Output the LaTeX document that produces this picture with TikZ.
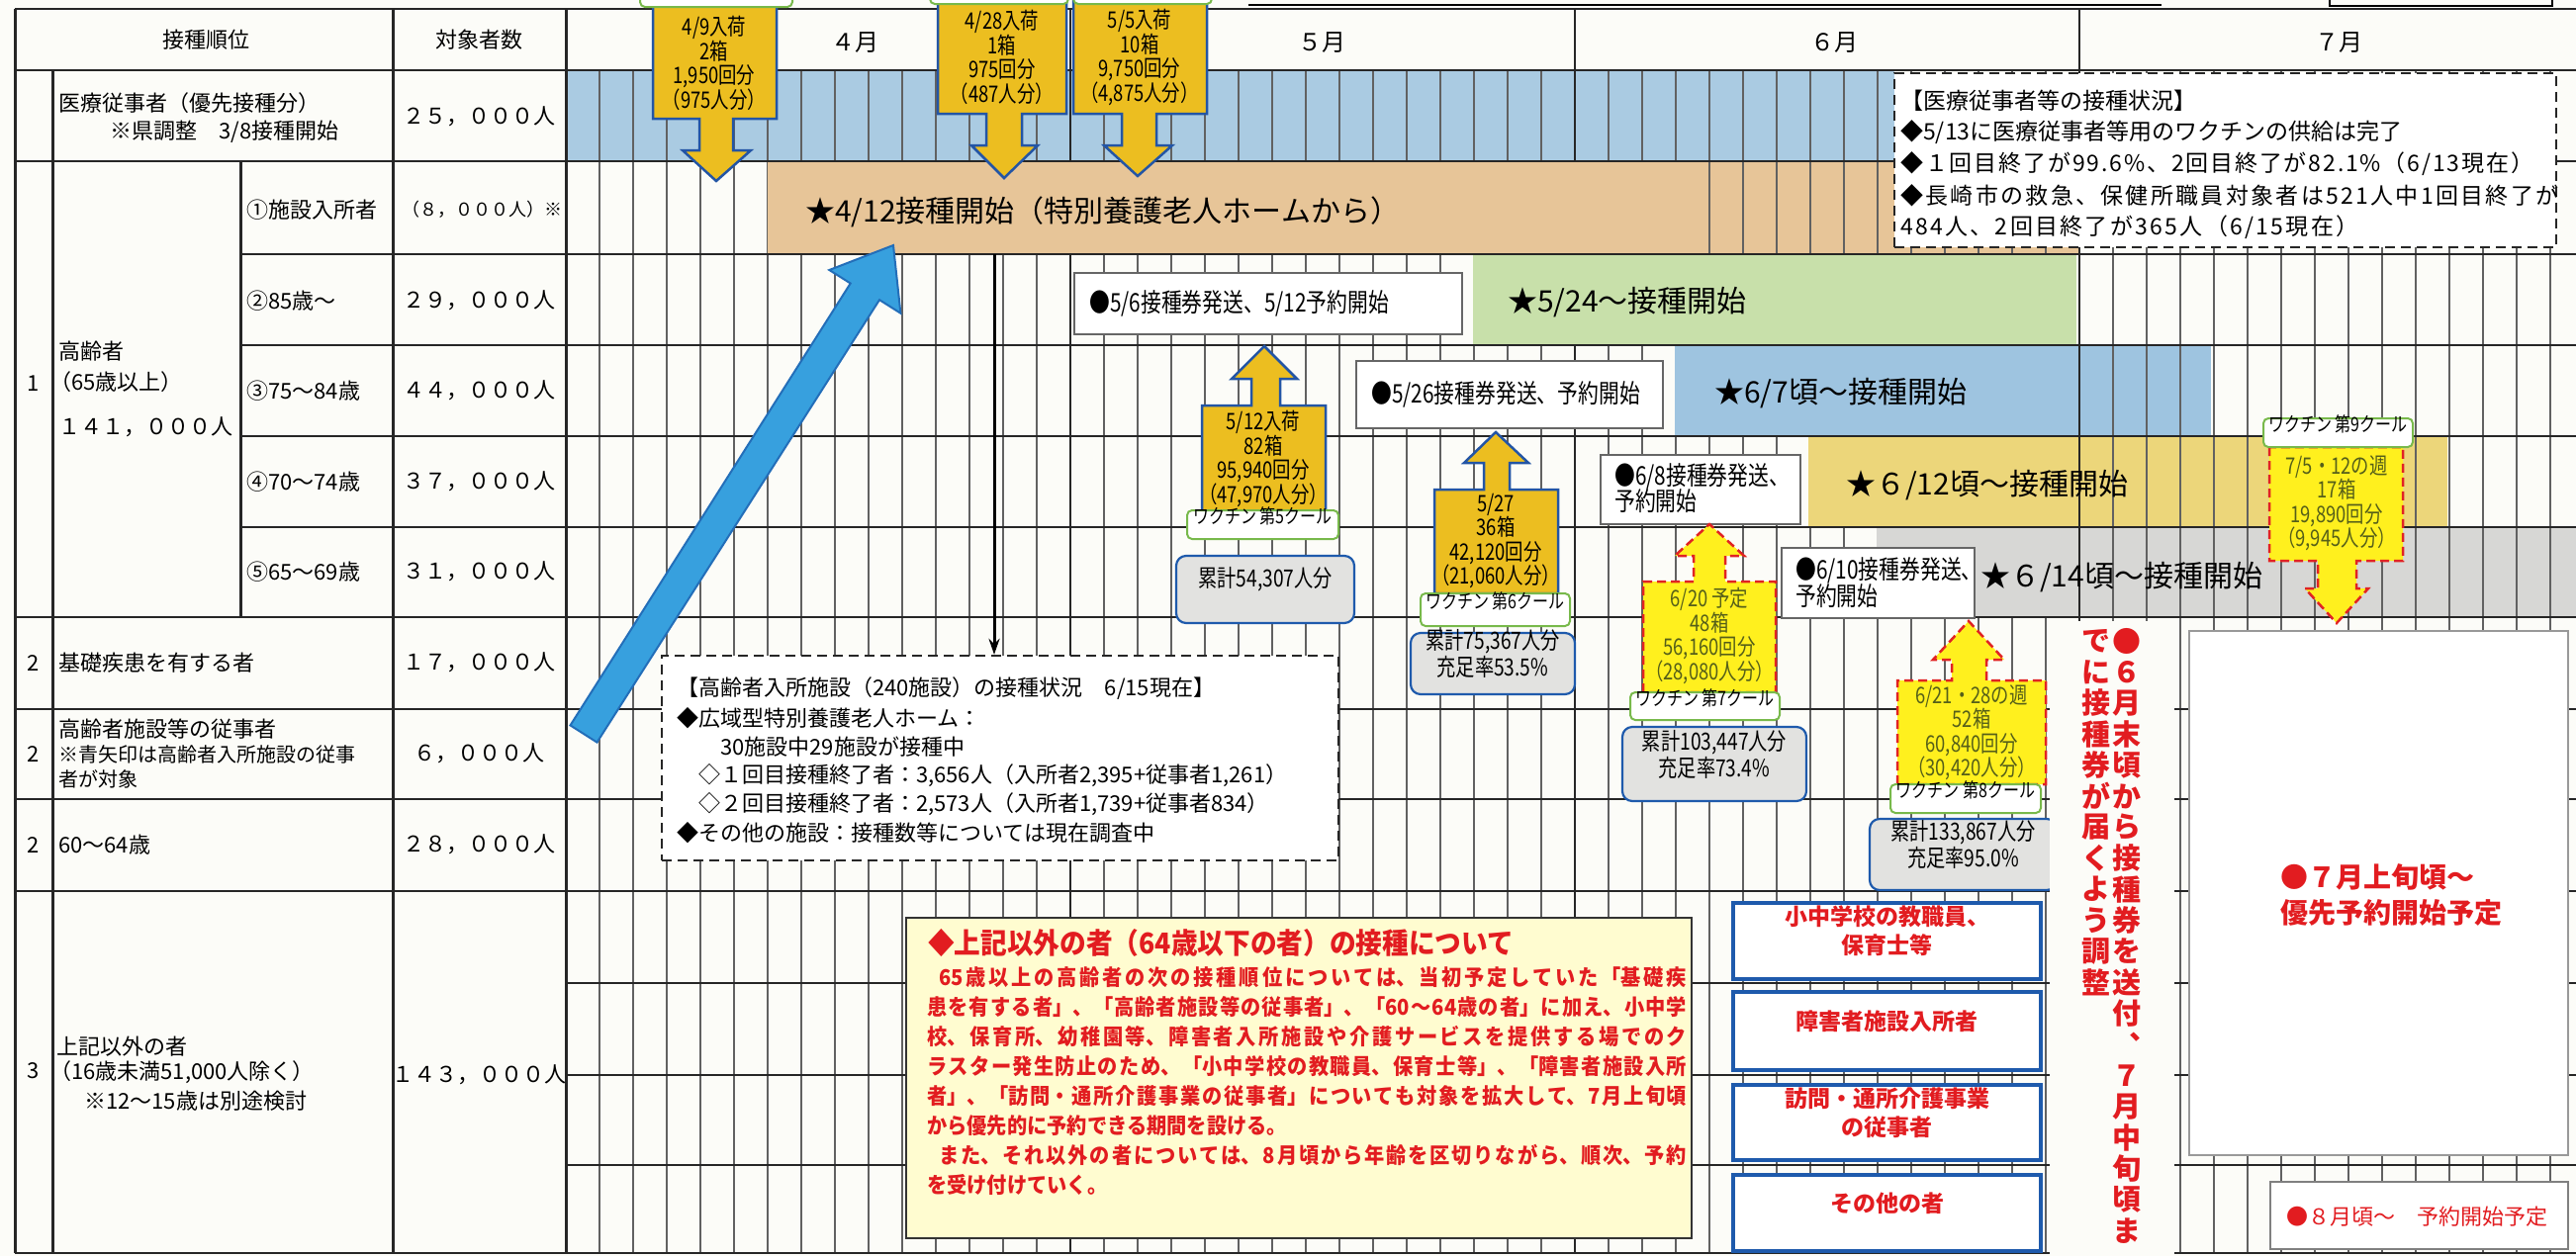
\documentclass[tikz,border=0pt]{standalone}
\usepackage{fontspec}
\setmainfont{Noto Sans CJK JP}
\newfontfamily\cond[FakeStretch=0.8]{Noto Sans CJK JP}
\newfontfamily\notefont[FakeStretch=0.92]{Noto Sans CJK JP}
\XeTeXlinebreaklocale "ja"
\XeTeXlinebreakskip=0pt plus 4pt minus 1pt
\usetikzlibrary{arrows.meta,fit}

\definecolor{paper}{RGB}{252,252,248}
\definecolor{medblue}{RGB}{170,203,226}
\definecolor{homebar}{RGB}{231,197,152}
\definecolor{agebar}{RGB}{200,224,170}
\definecolor{youngbar}{RGB}{158,196,224}
\definecolor{sixtybar}{RGB}{236,214,122}
\definecolor{lastbar}{RGB}{215,215,213}
\definecolor{gold}{RGB}{236,190,32}
\definecolor{arrowblue}{RGB}{35,85,165}
\definecolor{brightyel}{RGB}{255,240,30}
\definecolor{planred}{RGB}{225,35,35}
\definecolor{olive}{RGB}{85,95,25}
\definecolor{skyblue}{RGB}{55,160,222}
\definecolor{skyedge}{RGB}{35,110,185}
\definecolor{redtext}{RGB}{226,28,32}
\definecolor{boxblue}{RGB}{30,90,172}
\definecolor{labelgreen}{RGB}{120,185,75}
\definecolor{totalgray}{RGB}{226,226,224}
\definecolor{notebg}{RGB}{255,252,208}

\tikzset{
  gridline/.style={line width=1.3pt, black!62},
  monthline/.style={line width=2.6pt, black!85},
  rowline/.style={line width=2.4pt, black!85},
  tblline/.style={line width=3pt, black!85},
  cell/.style={inner sep=0pt, font=\fontsize{22}{26}\selectfont},
  monthtext/.style={inner sep=0pt, font=\fontsize{24}{28}\selectfont},
  bartext/.style={anchor=west, inner sep=0pt, font=\fontsize{30}{34}\selectfont},
  notice/.style={draw=black!60, line width=2pt, fill=white, inner sep=0pt},
  noticetext/.style={anchor=west, inner sep=0pt, font=\cond\fontsize{26}{29}\selectfont},
  statusbox/.style={draw=black!85, line width=2.4pt, dash pattern=on 10pt off 6pt, fill=white, inner sep=0pt},
  statustext/.style={anchor=west, inner sep=0pt, font=\fontsize{22}{26}\selectfont},
  goldarrow/.style={fill=gold, draw=arrowblue, line width=2.5pt},
  planarrow/.style={fill=brightyel, draw=planred, line width=2.5pt, dash pattern=on 9pt off 5pt},
  arrowtext/.style={inner sep=0pt, align=center, font=\cond\fontsize{23}{24.5}\selectfont},
  coollabel/.style={draw=labelgreen, line width=2pt, fill=white, rounded corners=5pt, inner sep=0pt, font=\cond\fontsize{20}{22}\selectfont},
  totalbox/.style={draw=boxblue, line width=2.2pt, fill=totalgray, rounded corners=10pt, inner sep=0pt, align=center, font=\cond\fontsize{24}{27}\selectfont},
  groupbox/.style={draw=boxblue, line width=4pt, fill=white, inner sep=0pt, align=center, text=redtext, font=\bfseries\fontsize{23}{29}\selectfont},
  notetext/.style={anchor=west, inner sep=0pt, text=redtext, font=\notefont\bfseries\fontsize{22}{26}\selectfont},
  vtext/.style={inner sep=0pt, text=redtext, font=\bfseries\fontsize{29}{29}\selectfont},
}

\newcommand\vlines[2]{%
  \foreach \k in {1,...,59}{\draw[gridline] ({572+34*\k},#1) -- ({572+34*\k},#2);}%
  \foreach \k in {15,30,45}{\draw[monthline] ({572+34*\k},#1) -- ({572+34*\k},#2);}}
\newcommand\fullline[1]{\parbox{768pt}{\tolerance=9999\parfillskip=0pt\relax #1}}

\begin{document}
\begin{tikzpicture}[x=1pt,y=-1pt]
\useasboundingbox (0,0) rectangle (2604,1270);
\fill[paper] (0,0) rectangle (2604,1270);

\fill[medblue] (572,71) rectangle (1915,163);
\vlines{71}{1267}
\foreach \k in {15,30,45} \draw[monthline] ({572+34*\k},9) -- ({572+34*\k},71);

\node[fit={(776,163) (2101,257)}, fill=homebar, inner sep=0pt] (tanbar) {};
\fill[agebar] (1489,257) rectangle (2099,349);
\fill[youngbar] (1693,349) rectangle (2235,441);
\fill[sixtybar] (1828,441) rectangle (2474,533);
\fill[lastbar] (1897,533) rectangle (2604,624);
\begin{scope} \clip (1727,163) rectangle (2101,257); \vlines{163}{257} \end{scope}
\begin{scope} \clip (2101,349) rectangle (2235,441); \vlines{349}{441} \end{scope}
\begin{scope} \clip (2101,441) rectangle (2474,533); \vlines{441}{533} \end{scope}
\begin{scope} \clip (2101,533) rectangle (2604,624); \vlines{533}{624} \end{scope}

\foreach \y in {9,71,163,624,717,808,901,1267} \draw[rowline] (15,\y) -- (2604,\y);
\foreach \y in {257,349,441,533} \draw[rowline] (243,\y) -- (2604,\y);
\foreach \y in {994,1087,1178} \draw[rowline] (572,\y) -- (2604,\y);
\draw[tblline] (15,9) -- (15,1267);
\draw[tblline] (53,71) -- (53,1267);
\draw[tblline] (243,163) -- (243,624);
\draw[tblline] (397,9) -- (397,1267);
\draw[tblline] (572,9) -- (572,1267);
\draw[line width=2pt] (1262,5) -- (2185,5);
\draw[line width=2.4pt] (2355,-20) rectangle (2580,6);

\node[monthtext] (apr) at (864,43) {４月};
\node[monthtext] (may) at (1336,43) {５月};
\node[monthtext] (jun) at (1854,43) {６月};
\node[monthtext] (jul) at (2364,43) {７月};

\node[cell] (hOrder) at (208,40) {接種順位};
\node[cell] (hCount) at (484,40) {対象者数};
\node[cell, anchor=west] (medA) at (59,104) {医療従事者（優先接種分）};
\node[cell, anchor=west] (medB) at (111,133) {※県調整　3/8接種開始};
\node[cell] (medN) at (484,118) {２５，０００人};
\node[cell, anchor=west] (oldA) at (59,355) {高齢者};
\node[cell, anchor=west] (oldB) at (50,386) {（65歳以上）};
\node[cell, anchor=west] (oldC) at (59,432) {１４１，０００人};
\node[cell] (no1) at (34,388) {1};
\node[cell, anchor=west] (sub1) at (249,212) {①施設入所者};
\node[cell, anchor=west] (sub2) at (249,304) {②85歳～};
\node[cell, anchor=west] (sub3) at (249,395) {③75～84歳};
\node[cell, anchor=west] (sub4) at (249,487) {④70～74歳};
\node[cell, anchor=west] (sub5) at (249,578) {⑤65～69歳};
\node[cell, font=\fontsize{18}{22}\selectfont] (num1) at (487,212) {（８，０００人）※};
\node[cell] (num2) at (484,304) {２９，０００人};
\node[cell] (num3) at (484,395) {４４，０００人};
\node[cell] (num4) at (484,487) {３７，０００人};
\node[cell] (num5) at (484,578) {３１，０００人};
\node[cell] (no2a) at (34,670) {2};
\node[cell, anchor=west] (illA) at (59,670) {基礎疾患を有する者};
\node[cell] (illN) at (484,670) {１７，０００人};
\node[cell] (no2b) at (34,762) {2};
\node[cell, anchor=west] (staffA) at (59,737) {高齢者施設等の従事者};
\node[cell, anchor=west, font=\fontsize{20}{24}\selectfont] (staffB) at (59,763) {※青矢印は高齢者入所施設の従事};
\node[cell, anchor=west, font=\fontsize{20}{24}\selectfont] (staffC) at (59,788) {者が対象};
\node[cell] (staffN) at (484,762) {６，０００人};
\node[cell] (no2c) at (34,854) {2};
\node[cell, anchor=west] (sixtyA) at (59,854) {60～64歳};
\node[cell] (sixtyN) at (484,854) {２８，０００人};
\node[cell] (no3) at (34,1083) {3};
\node[cell, anchor=west] (restA) at (57,1058) {上記以外の者};
\node[cell, anchor=west] (restB) at (50,1084) {（16歳未満51,000人除く）};
\node[cell, anchor=west] (restC) at (85,1113) {※12～15歳は別途検討};
\node[cell] (restN) at (484,1087) {１４３，０００人};

\node[bartext] (homelbl) at (814,214) {★4/12接種開始（特別養護老人ホームから）};
\node[bartext] (agelbl) at (1524,306) {★5/24～接種開始};
\node[bartext] (younglbl) at (1733,398) {★6/7頃～接種開始};
\node[bartext] (sixtylbl) at (1866,491) {★６/12頃～接種開始};
\node[bartext] (lastlbl) at (2002,584) {★６/14頃～接種開始};

\node[notice, fit={(1086,276) (1478,338)}] (ticketA) {};
\node[noticetext] at (1101,307) {●5/6接種券発送、5/12予約開始};
\node[notice, fit={(1371,365) (1681,433)}] (ticketB) {};
\node[noticetext] at (1386,399) {●5/26接種券発送、予約開始};
\node[notice, fit={(1618,460) (1820,530)}] (ticketC) {};
\node[noticetext] at (1632,482) {●6/8接種券発送、};
\node[noticetext] at (1632,507) {予約開始};
\node[notice, fit={(1801,554) (1996,625)}] (ticketD) {};
\node[noticetext] at (1815,577) {●6/10接種券発送、};
\node[noticetext] at (1815,603) {予約開始};

\node[statusbox, fit={(1915,74) (2584,250)}] (medbox) {};
\node[statustext, font=\fontsize{23}{26}\selectfont] at (1921,102) {【医療従事者等の接種状況】};
\node[statustext, font=\fontsize{23}{26}\selectfont] at (1921,134) {◆5/13に医療従事者等用のワクチンの供給は完了};
\node[statustext, font=\fontsize{23}{26}\selectfont\addfontfeature{LetterSpace=8}] at (1921,166) {◆１回目終了が99.6\%、2回目終了が82.1\%（6/13現在）};
\node[statustext, font=\fontsize{23}{26}\selectfont\addfontfeature{LetterSpace=10}] at (1921,198) {◆長崎市の救急、保健所職員対象者は521人中1回目終了が};
\node[statustext, font=\fontsize{23}{26}\selectfont\addfontfeature{LetterSpace=10}] at (1921,230) {484人、2回目終了が365人（6/15現在）};

\node[statusbox, fit={(669,663) (1353,870)}] (homebox) {};
\node[statustext] at (684,696) {【高齢者入所施設（240施設）の接種状況　6/15現在】};
\node[statustext] at (684,726) {◆広域型特別養護老人ホーム：};
\node[statustext] at (728,755) {30施設中29施設が接種中};
\node[statustext] at (706,784) {◇１回目接種終了者：3,656人（入所者2,395+従事者1,261）};
\node[statustext] at (706,813) {◇２回目接種終了者：2,573人（入所者1,739+従事者834）};
\node[statustext] at (684,842) {◆その他の施設：接種数等については現在調査中};
\coordinate (drop) at (1005,257);
\draw[line width=3pt, -{Stealth[length=16pt,width=11pt]}] (drop) -- (drop |- homebox.north);

\draw[fill=skyblue, draw=skyedge, line width=2pt] (576.5,733.4) -- (859.7,286.5) -- (838.3,273.0) -- (903,248)
  -- (910.4,316.7) -- (889.0,303.2) -- (603.5,750.6) -- cycle;

\draw[goldarrow] (660,-10) -- (785,-10) -- (785,120) -- (741,120) -- (741,152) -- (759,152) -- (724,183)
  -- (690,152) -- (707,152) -- (707,120) -- (660,120) -- cycle;
\draw[goldarrow] (948,-10) -- (1078,-10) -- (1078,115) -- (1033,115) -- (1033,147) -- (1049,147) -- (1015,180)
  -- (982,147) -- (997,147) -- (997,115) -- (948,115) -- cycle;
\draw[goldarrow] (1085,-10) -- (1220,-10) -- (1220,115) -- (1169,115) -- (1169,147) -- (1185,147) -- (1150,178)
  -- (1116,147) -- (1134,147) -- (1134,115) -- (1085,115) -- cycle;
\node[coollabel, fit={(647,-30) (801,7)}] (coolA) {};
\node[coollabel, fit={(940,-30) (1080,4)}] (coolB) {};
\node[coollabel, fit={(1085,-30) (1225,4)}] (coolC) {};
\node[arrowtext] (shipA) at (722,64) {4/9入荷\\2箱\\1,950回分\\（975人分）};
\node[arrowtext] (shipB) at (1013,58) {4/28入荷\\1箱\\975回分\\（487人分）};
\node[arrowtext] (shipC) at (1152,58) {5/5入荷\\10箱\\9,750回分\\（4,875人分）};

\draw[goldarrow] (1215,517) -- (1215,410) -- (1265,410) -- (1265,383) -- (1245,383) -- (1278,350)
  -- (1311,383) -- (1294,383) -- (1294,410) -- (1340,410) -- (1340,517) -- cycle;
\node[arrowtext] (shipD) at (1277,464) {5/12入荷\\82箱\\95,940回分\\（47,970人分）};
\node[coollabel, fit={(1200,516) (1353,545)}] (cool5) {ワクチン 第5クール};
\node[totalbox, fit={(1189,562) (1369,630)}] (sum5) {累計54,307人分};

\draw[goldarrow] (1450,600) -- (1450,495) -- (1500,495) -- (1500,468) -- (1480,468) -- (1512,437)
  -- (1545,468) -- (1526,468) -- (1526,495) -- (1575,495) -- (1575,600) -- cycle;
\node[arrowtext] (shipE) at (1512,547) {5/27\\36箱\\42,120回分\\（21,060人分）};
\node[coollabel, fit={(1436,600) (1587,633)}] (cool6) {ワクチン 第6クール};
\node[totalbox, fit={(1426,640) (1592,702)}] (sum6) {累計75,367人分\\充足率53.5\%};

\draw[planarrow] (1661,700) -- (1661,588) -- (1712,588) -- (1712,562) -- (1693,562) -- (1728,530)
  -- (1763,562) -- (1744,562) -- (1744,588) -- (1795,588) -- (1795,700) -- cycle;
\node[arrowtext, text=olive] (planA) at (1728,643) {6/20 予定\\48箱\\56,160回分\\（28,080人分）};
\node[coollabel, fit={(1648,700) (1799,728)}] (cool7) {ワクチン 第7クール};
\node[totalbox, fit={(1640,735) (1826,810)}] (sum7) {累計103,447人分\\充足率73.4\%};

\draw[planarrow] (1918,793) -- (1918,688) -- (1973,688) -- (1973,667) -- (1954,667) -- (1990,628)
  -- (2026,667) -- (2008,667) -- (2008,688) -- (2068,688) -- (2068,793) -- cycle;
\node[arrowtext, text=olive] (planB) at (1993,741) {6/21・28の週\\52箱\\60,840回分\\（30,420人分）};
\node[coollabel, fit={(1911,793) (2063,822)}] (cool8) {ワクチン 第8クール};
\node[totalbox, fit={(1890,828) (2079,900)}] (sum8) {累計133,867人分\\充足率95.0\%};

\draw[planarrow] (2294,452) -- (2294,567) -- (2343,567) -- (2343,595) -- (2330,595) -- (2362,630)
  -- (2394,595) -- (2382,595) -- (2382,567) -- (2429,567) -- (2429,452) -- cycle;
\node[arrowtext, text=olive] (planC) at (2362,509) {7/5・12の週\\17箱\\19,890回分\\（9,945人分）};
\node[coollabel, fit={(2288,423) (2439,452)}] (cool9) {ワクチン 第9クール};

\fill[paper] (2072,628) rectangle (2198,1270);
\foreach \c [count=\i from 0] in {●,６,月,末,頃,か,ら,接,種,券,を,送,付,︑,７,月,中,旬,頃,ま}
  \node[vtext] (r\i) at (2150,{648+31.4*\i}) {\c};
\foreach \c [count=\i from 0] in {で,に,接,種,券,が,届,く,よ,う,調,整}
  \node[vtext] (l\i) at (2119,{648+31.4*\i}) {\c};

\node[notice, draw=black!40, fit={(2213,638) (2596,1168)}] (julybox) {};
\node[anchor=west, inner sep=0pt, text=redtext, font=\bfseries\fontsize{28}{32}\selectfont] at (2305,887) {●７月上旬頃～};
\node[anchor=west, inner sep=0pt, text=redtext, font=\bfseries\fontsize{28}{32}\selectfont] at (2305,923) {優先予約開始予定};
\node[notice, draw=black!50, fit={(2295,1195) (2596,1263)}] (augbox) {};
\node[anchor=west, inner sep=0pt, text=redtext, font=\fontsize{22}{26}\selectfont] at (2311,1230) {●８月頃～　予約開始予定};

\node[groupbox, fit={(1752,913) (2063,990)}] (teach) {小中学校の教職員、\\保育士等};
\node[groupbox, fit={(1752,1003) (2063,1082)}] (disab) {障害者施設入所者};
\node[groupbox, fit={(1752,1097) (2063,1173)}] (visit) {訪問・通所介護事業\\の従事者};
\node[groupbox, fit={(1752,1188) (2063,1265)}] (others) {その他の者};

\node[draw=black!80, line width=2.4pt, fill=notebg, inner sep=0pt, fit={(916,928) (1710,1252)}] (notebox) {};
\node[anchor=west, inner sep=0pt, text=redtext, font=\notefont\bfseries\fontsize{29}{32}\selectfont] at (938,953)
  {◆上記以外の者（64歳以下の者）の接種について};
\node[notetext] at (937,988) {\fullline{\hspace*{12pt}65歳以上の高齢者の次の接種順位については、当初予定していた「基礎疾}};
\node[notetext] at (937,1018) {\fullline{患を有する者」、「高齢者施設等の従事者」、「60～64歳の者」に加え、小中学}};
\node[notetext] at (937,1048) {\fullline{校、保育所、幼稚園等、障害者入所施設や介護サービスを提供する場でのク}};
\node[notetext] at (937,1078) {\fullline{ラスター発生防止のため、「小中学校の教職員、保育士等」、「障害者施設入所}};
\node[notetext] at (937,1108) {\fullline{者」、「訪問・通所介護事業の従事者」についても対象を拡大して、7月上旬頃}};
\node[notetext] at (937,1138) {から優先的に予約できる期間を設ける。};
\node[notetext] at (937,1168) {\fullline{\hspace*{12pt}また、それ以外の者については、8月頃から年齢を区切りながら、順次、予約}};
\node[notetext] at (937,1198) {を受け付けていく。};
\end{tikzpicture}
\end{document}
